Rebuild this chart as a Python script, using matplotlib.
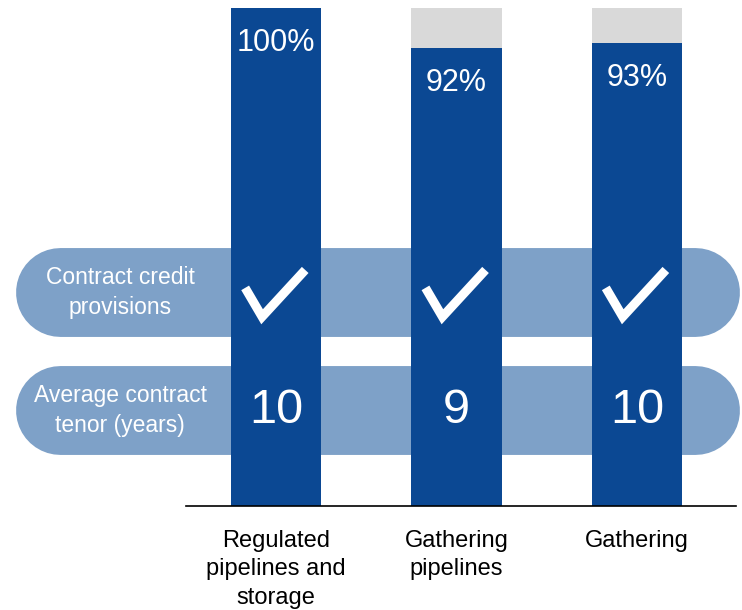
import matplotlib.pyplot as plt
import numpy as np

# Chart values
categories = ['Regulated\npipelines and\nstorage', 'Gathering\npipelines', 'Gathering']
contracted_pct = [100, 92, 93]
row_labels = ['Contract credit\nprovisions', 'Average contract\ntenor (years)']
credit_provisions = [True, True, True]
tenor_years = [10, 9, 10]

plt.rcParams['font.family'] = ['Liberation Sans', 'DejaVu Sans']

blue = '#0b4893'
grey = '#d9d9d9'
band_color = '#7ea1c8'

fig = plt.figure(figsize=(7.42, 6.10), dpi=100)
ax = fig.add_axes([186 / 742, 104 / 610, 550 / 742, 498 / 610])

x = np.arange(len(categories))
pct = np.array(contracted_pct)

# Stacked bars: contracted share plus grey remainder
ax.bar(x, pct, width=0.5, color=blue, zorder=3)
ax.bar(x, 100 - pct, bottom=pct, width=0.5, color=grey, zorder=3)

for xi, p in zip(x, pct):
    ax.annotate(f'{p}%', (xi, p), xytext=(0, -25), textcoords='offset points',
                ha='center', va='center', color='white', fontsize=22, zorder=5)

# Horizontal pill-shaped bands behind the bars
row_y = [42.9, 19.2]
for ry, label in zip(row_y, row_labels):
    ax.plot([-1.2, 2.324], [ry, ry], color=band_color, lw=64, solid_capstyle='round',
            clip_on=False, zorder=1)
    ax.text(-0.864, ry, label, ha='center', va='center', color='white', fontsize=16.5,
            linespacing=1.4, zorder=2)

# Check marks for credit provisions
check_dx = np.array([-0.172, -0.078, 0.161])
check_dy = np.array([0.9, -4.9, 4.5])
for xi, has in zip(x, credit_provisions):
    if has:
        ax.plot(xi + check_dx, row_y[0] + check_dy, color='white', lw=6.5,
                solid_capstyle='butt', solid_joinstyle='miter', zorder=5)

# Tenor values
for xi, t in zip(x, tenor_years):
    ax.text(xi, row_y[1], str(t), ha='center', va='center', color='white',
            fontsize=35, zorder=5)

ax.set_xlim(-0.5, 2.55)
ax.set_ylim(0, 100)
ax.set_xticks(x, categories)
ax.tick_params(axis='x', length=0, pad=17, labelsize=17)
for lbl in ax.get_xticklabels():
    lbl.set_linespacing(1.38)
ax.set_yticks([])
for side in ['top', 'left', 'right']:
    ax.spines[side].set_visible(False)
ax.spines['bottom'].set_linewidth(1.2)
ax.spines['bottom'].set_zorder(4)
ax.patch.set_alpha(0)

fig.savefig('out.png', dpi=100)
